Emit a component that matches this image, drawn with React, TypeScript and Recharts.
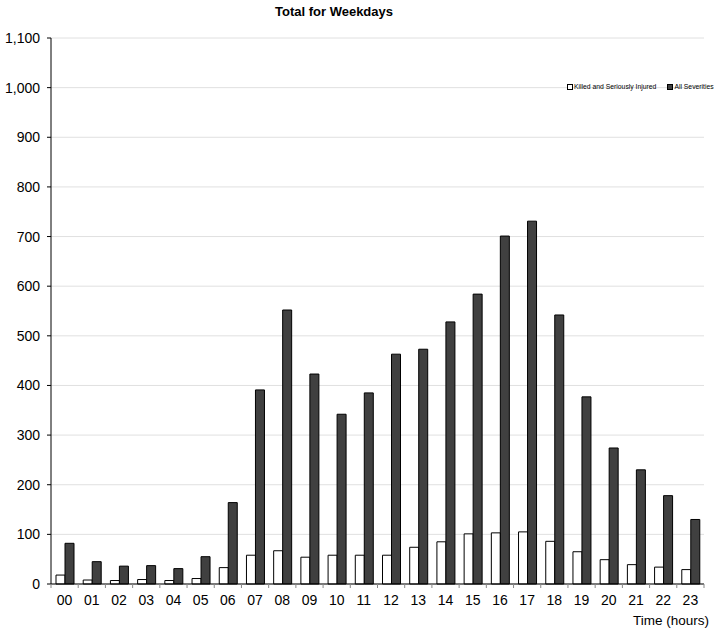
import { BarChart, Bar, XAxis, YAxis, CartesianGrid } from 'recharts'

const hours = ['00', '01', '02', '03', '04', '05', '06', '07', '08', '09', '10', '11',
  '12', '13', '14', '15', '16', '17', '18', '19', '20', '21', '22', '23']
const ksi = [18, 8, 7, 9, 7, 11, 33, 58, 67, 54, 58, 58, 58, 74, 85, 101, 103, 105, 86, 65, 49, 39, 34, 29]
const allSev = [82, 45, 36, 37, 31, 55, 164, 391, 552, 423, 342, 385, 463, 473, 528, 584, 701, 731, 542, 377, 274, 230, 178, 130]
const yTicks = [0, 100, 200, 300, 400, 500, 600, 700, 800, 900, 1000, 1100]

const KSI_NAME = 'Killed and Seriously Injured'
const ALL_NAME = 'All Severities'
const DARK = '#404040'
const FONT = '"Liberation Sans", Arial, sans-serif'

const W = 719
const H = 635
const M = { top: 38, right: 15, bottom: 21, left: 0 }
const Y_W = 51
const BAND = (W - M.left - Y_W - M.right) / hours.length

const data = hours.map((h, i) => ({ hour: h, ksi: ksi[i], all: allSev[i] }))

const HourTick = ({ x, y, payload, index }: any) => (
  <g>
    <line x1={x - BAND / 2} x2={x - BAND / 2} y1={y} y2={y + 4} stroke="#888" />
    {index === hours.length - 1 && (
      <line x1={x + BAND / 2} x2={x + BAND / 2} y1={y} y2={y + 4} stroke="#888" />
    )}
    <text x={x} y={y + 11} dy="0.71em" textAnchor="middle" fill="#000"
      fontSize={14} fontFamily={FONT}>
      {payload.value}
    </text>
  </g>
)

const Swatch = ({ fill }: { fill: string }) => (
  <span style={{
    display: 'inline-block', width: 4, height: 4, background: fill,
    border: '1px solid #000', marginRight: 1, verticalAlign: 'middle',
  }} />
)

export default function App() {
  return (
    <div style={{ position: 'absolute', left: 0, top: 0, width: W, height: H, fontFamily: FONT }}>
      <div style={{
        position: 'absolute', top: 4, left: 334, transform: 'translateX(-50%)',
        fontSize: 13, fontWeight: 700, whiteSpace: 'nowrap',
      }}>
        Total for Weekdays
      </div>
      <BarChart width={W} height={H} data={data} margin={M} barGap={0} barSize={9}>
        <CartesianGrid vertical={false} stroke="#e0e0e0" />
        <XAxis dataKey="hour" axisLine={{ stroke: '#000' }} tickLine={false}
          tickSize={0} tickMargin={0} height={30} tick={<HourTick />} interval={0} />
        <YAxis domain={[0, 1100]} ticks={yTicks} width={Y_W} interval={0}
          axisLine={{ stroke: '#000' }} tickLine={{ stroke: '#000' }} tickSize={4} tickMargin={7}
          tick={{ fill: '#000', fontSize: 14, fontFamily: FONT }}
          tickFormatter={(v: number) => v.toLocaleString('en-US')} />
        <Bar dataKey="ksi" name={KSI_NAME} fill="#fff" stroke="#000" strokeWidth={1}
          isAnimationActive={false} />
        <Bar dataKey="all" name={ALL_NAME} fill={DARK} stroke="#000" strokeWidth={1}
          isAnimationActive={false} />
      </BarChart>
      <div style={{
        position: 'absolute', top: 83, left: 567, fontSize: 6.8, whiteSpace: 'nowrap',
        display: 'flex', alignItems: 'center', gap: 11,
      }}>
        <span><Swatch fill="#fff" />{KSI_NAME}</span>
        <span><Swatch fill={DARK} />{ALL_NAME}</span>
      </div>
      <div style={{
        position: 'absolute', top: 613, right: 10, fontSize: 13.5, whiteSpace: 'nowrap',
      }}>
        Time (hours)
      </div>
    </div>
  )
}
